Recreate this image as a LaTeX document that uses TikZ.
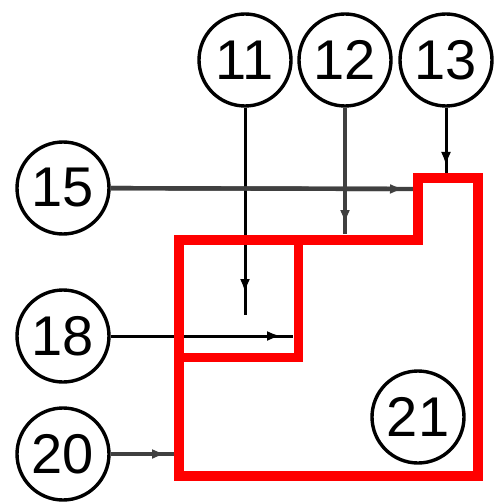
\documentclass[tikz,border=0pt]{standalone}
\usepackage{fontspec}
\setmainfont{Liberation Sans}
\usepackage{tikz}
\usetikzlibrary{arrows.meta}

\begin{document}
\begin{tikzpicture}[x=0.5pt, y=-0.5pt,
  num/.style={circle, draw=black, line width=1.7pt, fill=white, minimum size=46pt, inner sep=0pt, font=\fontsize{28}{30}\selectfont},
  thin line/.style={line width=1.5pt, black},
  thick line/.style={line width=2.2pt, black!75},
  tip/.style={-{Latex[length=7pt,width=5pt]}},
  region/.style={red, line width=5pt}]
\useasboundingbox (0,0) rectangle (494,502);
\node[num] (n11) at (245,60) {11};
\node[num] (n12) at (345,60) {12};
\node[num] (n13) at (446,60) {13};
\node[num] (n15) at (63,188) {15};
\node[num] (n18) at (63,336) {18};
\node[num] (n20) at (63,454) {20};
\node[num] (n21) at (418,417) {21};
\coordinate (t11) at (245,293);
\coordinate (e11) at (245,315);
\coordinate (t12) at (345,224);
\coordinate (e12) at (345,234);
\coordinate (t13) at (446,166);
\coordinate (e13) at (446,174);
\coordinate (t15) at (404,189);
\coordinate (e15) at (414,189);
\coordinate (t18) at (281,336);
\coordinate (e18) at (293,336);
\coordinate (t20) at (166,454);
\coordinate (e20) at (176,454);
\draw[thin line] (n11) -- (e11);
\draw[thin line, tip] (n11) -- (t11);
\draw[thick line] (n12) -- (e12);
\draw[thick line, tip] (n12) -- (t12);
\draw[thin line] (n13) -- (e13);
\draw[thin line, tip] (n13) -- (t13);
\draw[thick line] (n15) -- (e15);
\draw[thick line, tip] (n15) -- (t15);
\draw[thin line] (n18) -- (e18);
\draw[thin line, tip] (n18) -- (t18);
\draw[thick line] (n20) -- (e20);
\draw[thick line, tip] (n20) -- (t20);
% red regions
\draw[region] (179,240) -- (418,240) -- (418,178) -- (478,178) -- (478,476) -- (179,476) -- cycle;
\draw[region, line width=4.5pt] (179,240) rectangle (298,357);
\end{tikzpicture}
\end{document}
